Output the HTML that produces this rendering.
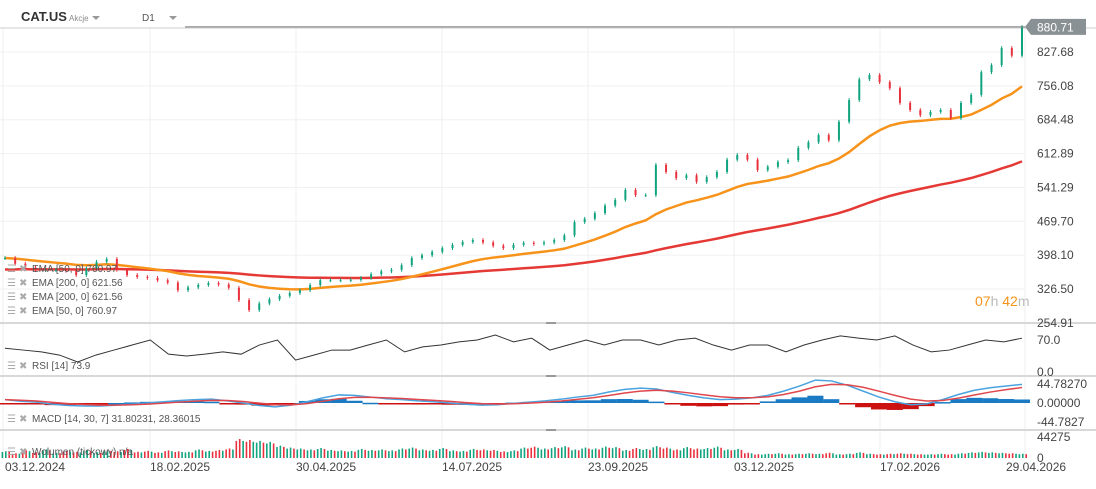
<!DOCTYPE html>
<html><head><meta charset="utf-8">
<style>
body{margin:0;background:#fff;font-family:"Liberation Sans",sans-serif;}
svg text{font-family:"Liberation Sans",sans-serif;}
</style></head>
<body>
<svg id="chart" width="1096" height="484" xmlns="http://www.w3.org/2000/svg">
  <g id="grid"></g>
  <g id="price"></g>
  <g id="rsi"></g>
  <g id="macd"></g>
  <g id="vol"></g>
  <g id="axis"></g>
  <g id="hdr">
    <text x="21" y="21" font-size="13" font-weight="bold" fill="#333">CAT.US</text>
    <text x="69" y="21" font-size="8" fill="#888">Akcje</text>
    <path d="M92 16 l8 0 l-4 4 z" fill="#999"/>
    <text x="142" y="21" font-size="10" fill="#555">D1</text>
    <path d="M169 16 l8 0 l-4 4 z" fill="#999"/>
  </g>
</svg>
<script>
const closes=[392,380,372,367,367,367,365,356,370,384,390,367,356,352,350,345,340,324,330,335,339,336,329,303,282,296,305,312,318,324,335,345,345,345,346,350,358,364,367,377,392,398,405,413,420,426,430,425,418,413,420,424,422,425,430,440,468,475,487,503,515,536,525,525,589,574,561,567,553,563,574,600,610,600,578,585,595,599,625,637,652,641,680,726,770,779,764,751,720,705,694,701,705,688,720,737,785,800,836,820,880.71];
const volumes=[14,10,16,12,18,11,15,13,17,12,16,14,19,13,15,12,16,14,13,18,15,17,20,40,38,36,34,26,22,20,18,21,17,16,15,19,17,18,16,20,22,18,17,21,16,15,19,18,17,14,16,22,24,20,23,25,18,22,20,24,23,17,21,19,25,22,18,23,20,21,24,18,19,11,8,9,10,8,9,10,9,11,8,9,12,9,8,9,10,9,8,8,9,8,10,12,13,12,11,10,9];
const rsiVals=[52,48,44,37,22,37,48,59,70,39,35,39,44,39,59,70,26,37,48,48,59,70,44,55,59,66,70,81,66,74,48,59,70,59,70,70,59,70,74,59,48,59,59,44,59,70,79,74,70,79,59,44,48,59,70,66,74];
const macdVals=[8,4,2,-3,-6,-7,-7,-5,-3,0,3,6,8,9,5,0,-6,-9,-5,3,12,19,18,14,10,8,5,3,0,-3,-5,-4,-1,2,5,9,14,18,26,32,35,33,25,18,12,8,9,12,18,28,40,54,52,42,28,14,3,-4,-2,8,20,30,36,40,44];
const priceTicks=[827.68,756.08,684.48,612.89,541.29,469.70,398.10,326.50,254.91];
const dateLabels=["03.12.2024","18.02.2025","30.04.2025","14.07.2025","23.09.2025","03.12.2025","17.02.2026","29.04.2026"];
const NS="http://www.w3.org/2000/svg";
function mk(parent,tag,attrs){const e=document.createElementNS(NS,tag);for(const k in attrs)e.setAttribute(k,attrs[k]);parent.appendChild(e);return e;}
const X0=5,X1=1022;
const xs=i=>X0+(X1-X0)*i/(closes.length-1);
const yP=v=>52+(827.68-v)*0.4729;
const yR=v=>372-v*0.457;
const yM=v=>403-v*19/44.78;
const yV=v=>458-v*21/44.275;
const G=id=>document.getElementById(id);
function ema(arr,p,seed){const k=2/(p+1);let e=seed;return arr.map(v=>(e=v*k+e*(1-k)));}
function addLegend(par,t,y,name){
const ic=mk(par,'text',{x:7,y:y,'font-size':10,fill:'#aaa'});ic.textContent='☰';


const xx=mk(par,'text',{x:19,y:y,'font-size':10,fill:'#aaa'});xx.textContent='✖';


const tx=mk(par,'text',{x:32,y:y,'font-size':10,fill:'#555'});tx.textContent=t;

}

// grid
const grid=G('grid');
const gridX=[3,150,296,442,588,734,880,1025];
gridX.forEach(x=>{const l=mk(grid,'line',{x1:x,x2:x,y1:28,y2:460,stroke:'#efefef','stroke-width':1});

});
priceTicks.forEach(v=>{const l=mk(grid,'line',{x1:0,x2:1025,y1:yP(v),y2:yP(v),stroke:'#f0f0f0'});

});
[323,376,430].forEach(y=>{const l=mk(grid,'line',{x1:0,x2:1096,y1:y,y2:y,stroke:'#d8d8d8','stroke-width':2});


const h=mk(grid,'line',{x1:546,x2:556,y1:y,y2:y,stroke:'#999','stroke-width':2});

});
const topBorder=mk(grid,'line',{x1:0,x2:1096,y1:28,y2:28,stroke:'#ccc'});



// price
const pg=G('price');
const ema200=ema(closes,70,367), ema50=ema(closes,17,392);
[[ema200,'#e53935','ema-200-line'],[ema50,'#f7931a','ema-50-line']].forEach(([a,c,n])=>{
const p=mk(pg,'polyline',{points:a.map((v,i)=>xs(i)+','+yP(v)).join(' '),fill:'none',stroke:c,'stroke-width':2.5});

});
closes.forEach((c,i)=>{const o=i?closes[i-1]:c;const up=c>=o;const col=up?'#10a37f':'#e8313d';
const hi=Math.max(o,c)+4,lo=Math.min(o,c)-4;
const w=mk(pg,'line',{x1:xs(i),x2:xs(i),y1:yP(hi),y2:yP(lo),stroke:col,'stroke-width':1});


const b=mk(pg,'rect',{x:xs(i)-1,y:yP(Math.max(o,c)),width:2,height:Math.max(1,Math.abs(yP(o)-yP(c))),fill:col});

});
const last=closes[closes.length-1];
const pl=mk(pg,'line',{x1:185,x2:1025,y1:yP(last),y2:yP(last),stroke:'#777','stroke-width':1});


const pb=mk(pg,'path',{d:`M1025 ${yP(last)} l6 -8 h55 v16 h-55 z`,fill:'#8a9195'});


const pt=mk(pg,'text',{x:1037,y:yP(last)+4.5,'font-size':12,fill:'#fff'});pt.textContent=last.toFixed(2);


const legends=["EMA [50, 0] 760.97","EMA [200, 0] 621.56","EMA [200, 0] 621.56","EMA [50, 0] 760.97"];
legends.forEach((t,i)=>addLegend(pg,t,272+i*14,'ema-legend'));
const tm=mk(pg,'text',{x:975,y:306,'font-size':14,fill:'#f7931a'});
tm.innerHTML='07<tspan fill="#bbb">h</tspan> 42<tspan fill="#bbb">m</tspan>';



// rsi
const rg=G('rsi');
const xr=i=>X0+(X1-X0)*i/(rsiVals.length-1);
const rl=mk(rg,'polyline',{points:rsiVals.map((v,i)=>xr(i)+','+yR(v)).join(' '),fill:'none',stroke:'#333','stroke-width':1});


addLegend(rg,'RSI [14] 73.9',369,'rsi-legend');

// macd
const mg=G('macd');
const xm=i=>X0+(X1-X0)*i/(macdVals.length-1);
const sig=ema(macdVals,4,macdVals[0]);
macdVals.forEach((v,i)=>{const h=(v-sig[i])*1.1;const y=yM(0);
const r=mk(mg,'rect',{x:xm(i)-8,y:h>0?yM(h):y,width:16,height:Math.max(1.5,Math.abs(yM(h)-y)),fill:h>0?'#1a7bc4':'#cc1111'});

});
[[macdVals,'#4aa3df','macd-line'],[sig,'#e0474c','signal-line']].forEach(([a,c,n])=>{
const p=mk(mg,'polyline',{points:a.map((v,i)=>xm(i)+','+yM(v)).join(' '),fill:'none',stroke:c,'stroke-width':1.5});

});
addLegend(mg,'MACD [14, 30, 7] 31.80231, 28.36015',422,'macd-legend');

// volume
const vg=G('vol');
volumes.forEach((v,i)=>{for(let k=0;k<3;k++){const x=xs(i)-3.4+k*3.4;const vv=v*(k==1?1:0.9);
const up=i? closes[i]>=closes[i-1]:true;
const r=mk(vg,'rect',{x:x,y:yV(vv),width:1.6,height:458-yV(vv),fill:(k==2?!up:up)?'#10a37f':'#e8313d'});

}});
addLegend(vg,'Wolumen (tickowy) n/a',455,'volume-legend');

// axes
const ag=G('axis');
priceTicks.forEach(v=>{const t=mk(ag,'text',{x:1037,y:yP(v)+4,'font-size':12,fill:'#444'});t.textContent=v.toFixed(2);

});
[["70.0",yR(70)],["0.0",yR(0)],["44.78270",yM(44.78)],["0.00000",yM(0)],["-44.7827",yM(-44.78)],["44275",yV(44.275)],["0",yV(0)]].forEach(([s,y])=>{
const t=mk(ag,'text',{x:1037,y:y+4,'font-size':12,fill:'#444'});t.textContent=s;

});
dateLabels.forEach((d,i)=>{const x=i==0?5:(i==dateLabels.length-1?1006:gridX[i]);
const t=mk(ag,'text',{x:x,y:471,'font-size':12,fill:'#444'});t.textContent=d;

});
</script>
</body></html>
